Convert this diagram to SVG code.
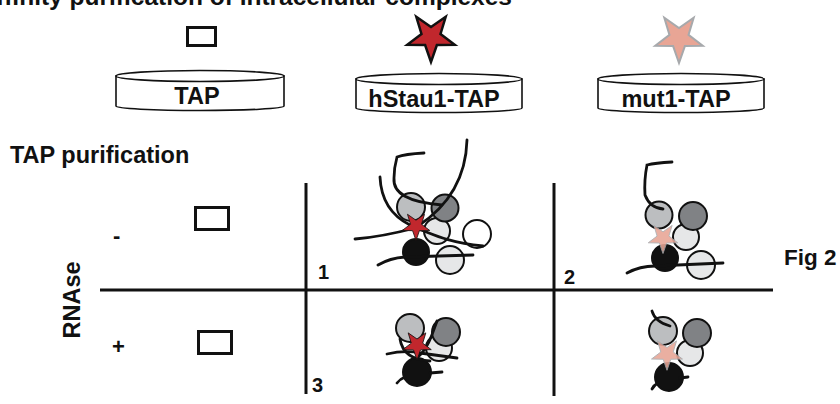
<svg xmlns="http://www.w3.org/2000/svg" xmlns:xlink="http://www.w3.org/1999/xlink" width="840" height="404" viewBox="0 0 840 404">
  <defs>
    <style>
      .t { font-family: "Liberation Sans", Arial, sans-serif; font-weight: bold; fill: #111; }
      .disk { fill: #fff; stroke: #111; stroke-width: 1.6; }
      .box { fill: #fff; stroke: #111; stroke-width: 3; }
      .rule { stroke: #111; stroke-width: 3; fill: none; }
      .rna { stroke: #111; stroke-width: 2.8; fill: none; stroke-linecap: round; }
      .c { stroke: #111; stroke-width: 2; }
      .lg { fill: #bcbec0; }
      .dg { fill: #808285; }
      .vl { fill: #e6e7e8; }
      .wh { fill: #fff; }
      .bk { fill: #111; }
      .red { fill: #c1272d; stroke: #111; stroke-width: 2.5; stroke-linejoin: miter; }
      .pink { fill: #e8a595; stroke: #a7a9ac; stroke-width: 2; }
      .pinkp { fill: #e8a595; stroke: #a7a9ac; stroke-width: 1.5; opacity: 0.88; }
      .redp { fill: #c1272d; stroke: #111; stroke-width: 1.4; }
    </style>
    <!-- five-pointed star, pointing down, outer radius 25 -->
    <path id="star" d="M0,25 L-5.88,8.09 L-23.78,7.73 L-9.51,-3.09 L-14.69,-20.23 L0,-10 L14.69,-20.23 L9.51,-3.09 L23.78,7.73 L5.88,8.09 Z"/>
  </defs>

  <rect width="840" height="404" fill="#fff"/>

  <!-- heading runs past the top edge of the figure -->
  <g id="title">
    <text class="t" x="512" y="5" font-size="24.5" text-anchor="end">Affinity purification of intracellular complexes</text>
  </g>

  <!-- baits -->
  <g id="bait-tap">
    <rect class="box" x="187.5" y="27.5" width="28" height="18"/>
    <path class="disk" d="M116,76 L116,106 A84,4.5 0 0 0 284,106 L284,76 Z"/>
    <ellipse class="disk" cx="200" cy="76" rx="84" ry="5.5"/>
    <text class="t" x="197" y="104" font-size="23.5" text-anchor="middle">TAP</text>
  </g>
  <g id="bait-hstau1">
    <use href="#star" xlink:href="#star" class="red" transform="translate(431,37)"/>
    <path class="disk" d="M356,79 L356,108 A83,4.5 0 0 0 522,108 L522,79 Z"/>
    <ellipse class="disk" cx="439" cy="79" rx="83" ry="5.5"/>
    <text class="t" x="434" y="107" font-size="23.5" text-anchor="middle">hStau1-TAP</text>
  </g>
  <g id="bait-mut1">
    <use href="#star" xlink:href="#star" class="pink" transform="translate(679,38)"/>
    <path class="disk" d="M598,79 L598,108 A83,4.5 0 0 0 764,108 L764,79 Z"/>
    <ellipse class="disk" cx="681" cy="79" rx="83" ry="5.5"/>
    <text class="t" x="676" y="107" font-size="23.5" text-anchor="middle">mut1-TAP</text>
  </g>

  <!-- table labels -->
  <g id="labels">
    <text class="t" x="10" y="163" font-size="23.5">TAP purification</text>
    <text class="t" transform="translate(80,300) rotate(-90)" font-size="23.5" text-anchor="middle">RNAse</text>
    <text class="t" x="113" y="243" font-size="22">-</text>
    <text class="t" x="112" y="354" font-size="22">+</text>
    <text class="t" x="784" y="265" font-size="22.5">Fig 2</text>
    <text class="t" x="318" y="279" font-size="20">1</text>
    <text class="t" x="564" y="284" font-size="20">2</text>
    <text class="t" x="312" y="392" font-size="20">3</text>
  </g>

  <g id="grid">
    <line class="rule" x1="100" y1="290" x2="773" y2="290"/>
    <line class="rule" x1="306" y1="183" x2="306" y2="394"/>
    <line class="rule" x1="554" y1="183" x2="554" y2="396"/>
  </g>

  <g id="tap-minus">
    <rect class="box" x="195.5" y="207.5" width="33" height="22"/>
  </g>
  <g id="tap-plus">
    <rect class="box" x="198.5" y="331.5" width="33" height="22"/>
  </g>

  <!-- panel 1: hStau1-TAP, no RNAse -->
  <g id="panel-1">
    <circle class="c vl" cx="437" cy="231" r="13"/>
    <circle class="c lg" cx="411" cy="207" r="14"/>
    <circle class="c dg" cx="445" cy="208" r="13.5"/>
    <circle class="c wh" cx="477" cy="234" r="14"/>
    <circle class="c vl" cx="450" cy="260" r="14"/>
    <circle class="c bk" cx="416" cy="252" r="13"/>
    <path class="rna" d="M424,153 Q405,154 397,157 Q394,168 394,178 Q392,201 442,205"/>
    <path class="rna" d="M467,140 C466,176 450,205 418,226"/>
    <path class="rna" d="M380,177 C381,200 392,216 410,225"/>
    <path class="rna" d="M355,239 C380,237 400,232 415,228 C430,232 440,241 483,246"/>
    <path class="rna" d="M378,265 Q390,258 405,257 L473,255"/>
    <use href="#star" xlink:href="#star" class="redp" transform="translate(416,226) scale(0.58)"/>
  </g>

  <!-- panel 2: mut1-TAP, no RNAse -->
  <g id="panel-2">
    <circle class="c vl" cx="686" cy="237" r="13"/>
    <circle class="c dg" cx="693" cy="216" r="14"/>
    <circle class="c lg" cx="659" cy="215" r="13.5"/>
    <circle class="c vl" cx="701" cy="265" r="14"/>
    <circle class="c bk" cx="665" cy="258" r="13"/>
    <path class="rna" d="M672,162 Q655,163 647,165 Q644,180 645,195 Q650,208 663,209"/>
    <path class="rna" d="M627,273 Q640,266 655,266 L723,263"/>
    <use href="#star" xlink:href="#star" class="pinkp" transform="translate(663,238) scale(0.62)"/>
  </g>

  <!-- panel 3: hStau1-TAP, with RNAse -->
  <g id="panel-3">
    <circle class="c vl" cx="439" cy="348" r="13"/>
    <circle class="c dg" cx="446" cy="332" r="14"/>
    <circle class="c lg" cx="410" cy="328" r="14"/>
    <circle class="c bk" cx="417" cy="372" r="14"/>
    <path class="rna" d="M387,354 Q405,350 420,353 L457,358"/>
    <path class="rna" d="M400,339 C402,352 412,360 430,361"/>
    <path class="rna" d="M437,321 C432,335 428,348 418,357"/>
    <path class="rna" d="M397,383 Q400,379 405,377"/>
    <path class="rna" d="M430,373 L442,372"/>
    <use href="#star" xlink:href="#star" class="redp" transform="translate(417,345) scale(0.6)"/>
  </g>

  <!-- panel 4: mut1-TAP, with RNAse -->
  <g id="panel-4">
    <circle class="c vl" cx="690" cy="353" r="13"/>
    <circle class="c dg" cx="697" cy="333" r="14"/>
    <circle class="c lg" cx="663" cy="331" r="14"/>
    <circle class="c bk" cx="669" cy="377" r="14"/>
    <path class="rna" d="M652,311 Q655,322 670,326"/>
    <path class="rna" d="M652,389 Q654,385 658,383"/>
    <path class="rna" d="M680,378 L688,377"/>
    <use href="#star" xlink:href="#star" class="pinkp" transform="translate(667,354) scale(0.65)"/>
  </g>
</svg>
